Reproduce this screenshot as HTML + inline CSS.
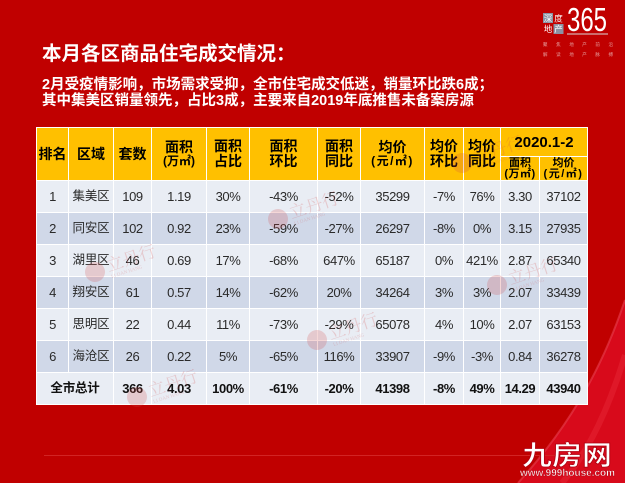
<!DOCTYPE html>
<html>
<head>
<meta charset="utf-8">
<style>
html,body{margin:0;padding:0;}
body{width:625px;height:483px;background:#c00000;position:relative;overflow:hidden;font-family:"Liberation Sans","Noto Sans CJK SC",sans-serif;}
.abs{position:absolute;}
.title{left:42px;top:43px;font-size:19.5px;line-height:22px;font-weight:bold;color:#fff;white-space:nowrap;font-family:"Liberation Sans","Noto Sans CJK SC",sans-serif;}
.sub{left:42px;top:77px;font-size:14.5px;line-height:16px;font-weight:bold;color:#fff;white-space:nowrap;font-family:"Liberation Sans","Noto Sans CJK SC",sans-serif;}
table{position:absolute;left:36px;top:127px;width:551px;border-collapse:collapse;table-layout:fixed;}
th,td{border:1px solid #fff;padding:0;text-align:center;vertical-align:middle;white-space:nowrap;overflow:hidden;}
th{background:#ffc000;color:#000;font-weight:bold;font-size:14px;line-height:15px;}
tr.h1{height:29px;}
tr.h2{height:24px;}
tr.r{height:32px;}
td{font-size:13px;line-height:15px;color:#2a2a2a;letter-spacing:-0.4px;}
tr.o td{background:#e9edf4;}
tr.e td{background:#d0d8e8;}
tr.t td{background:#e9edf4;font-weight:bold;color:#111;}
td.d{font-family:"Noto Sans CJK SC",sans-serif;font-size:12.5px;line-height:15px;letter-spacing:-0.2px;}
td.d span{display:inline-block;line-height:15px;vertical-align:middle;position:relative;top:-3px;}
.a{font-size:14px;line-height:15px;}
.b{font-size:12px;line-height:13px;}
.c{font-size:11px;line-height:10.5px;}
.yr{font-size:15px;}
</style>
</head>
<body>
<svg class="abs" style="left:0;top:0" width="625" height="483">
  <path d="M625,300 C605,360 575,420 518,483 L625,483 Z" fill="#d80a1b"/>
  <path d="M625,300 C605,360 575,420 518,483" fill="none" stroke="#e84050" stroke-width="2" opacity="0.6"/>
  <path d="M625,355 C610,405 590,450 562,483" fill="none" stroke="#f03a48" stroke-width="6" opacity="0.3"/>
  <line x1="44" y1="455.5" x2="555" y2="455.5" stroke="#d22424" stroke-width="1"/>
  <!-- top-right logo -->
  <rect x="543" y="13" width="10" height="10" fill="#8a93a4"/>
  <rect x="553.5" y="24" width="10" height="10" fill="#8a93a4"/>
  <text x="548" y="21.5" font-size="8.5" fill="#fff" text-anchor="middle" font-family="Noto Sans CJK SC,sans-serif">深</text>
  <text x="558.5" y="21.5" font-size="8.5" fill="#fff" text-anchor="middle" font-family="Noto Sans CJK SC,sans-serif">度</text>
  <text x="548" y="32" font-size="8.5" fill="#fff" text-anchor="middle" font-family="Noto Sans CJK SC,sans-serif">地</text>
  <text x="558.5" y="32" font-size="8.5" fill="#fff" text-anchor="middle" font-family="Noto Sans CJK SC,sans-serif">产</text>
  <text x="567" y="31" font-size="33" fill="#fff" font-family="Liberation Sans,sans-serif" textLength="40" lengthAdjust="spacingAndGlyphs">365</text>
  <line x1="567" y1="34" x2="608" y2="34" stroke="#d8d8d8" stroke-width="1"/>
  <text x="543" y="46" font-size="4.5" fill="#e6a0a0" font-family="Noto Sans CJK SC,sans-serif" textLength="70">聚 焦 地 产 前 沿</text>
  <text x="543" y="56" font-size="4.5" fill="#e6a0a0" font-family="Noto Sans CJK SC,sans-serif" textLength="70">解 读 地 产 脉 搏</text>
  <!-- bottom-right logo -->
  <text x="522" y="465" font-size="27" font-weight="bold" fill="#fff" stroke="#b00010" stroke-width="0.8" font-family="Noto Sans CJK SC,sans-serif" textLength="90" lengthAdjust="spacingAndGlyphs">九房网</text>
  <text x="520" y="476" font-size="10" font-weight="bold" fill="#fff" stroke="#b00010" stroke-width="0.4" font-family="Liberation Sans,sans-serif" textLength="95" lengthAdjust="spacingAndGlyphs">www.999house.com</text>
</svg>

<div class="abs title">本月各区商品住宅成交情况：</div>
<div class="abs sub">2月受疫情影响，市场需求受抑，全市住宅成交低迷，销量环比跌6成；<br>其中集美区销量领先，占比3成，主要来自2019年底推售未备案房源</div>

<table>
<colgroup>
<col style="width:32px"><col style="width:45px"><col style="width:38px"><col style="width:55px"><col style="width:43px"><col style="width:68px"><col style="width:43px"><col style="width:64px"><col style="width:39px"><col style="width:37px"><col style="width:39px"><col style="width:48px">
</colgroup>
<tr class="h1">
<th rowspan="2">排名</th>
<th rowspan="2">区域</th>
<th rowspan="2">套数</th>
<th rowspan="2"><div class="a">面积</div><div class="b">(万㎡)</div></th>
<th rowspan="2"><div class="a">面积</div><div class="a">占比</div></th>
<th rowspan="2"><div class="a">面积</div><div class="a">环比</div></th>
<th rowspan="2"><div class="a">面积</div><div class="a">同比</div></th>
<th rowspan="2"><div class="a">均价</div><div class="b" style="letter-spacing:1.5px">(元/㎡)</div></th>
<th rowspan="2"><div class="a">均价</div><div class="a">环比</div></th>
<th rowspan="2"><div class="a">均价</div><div class="a">同比</div></th>
<th colspan="2" class="yr">2020.1-2</th>
</tr>
<tr class="h2">
<th><div class="c">面积</div><div class="c" style="letter-spacing:0.5px">(万㎡)</div></th>
<th><div class="c">均价</div><div class="c" style="letter-spacing:1.5px">(元/㎡)</div></th>
</tr>
<tr class="r o"><td>1</td><td class="d"><span>集美区</span></td><td>109</td><td>1.19</td><td>30%</td><td>-43%</td><td>-52%</td><td>35299</td><td>-7%</td><td>76%</td><td>3.30</td><td>37102</td></tr>
<tr class="r e"><td>2</td><td class="d"><span>同安区</span></td><td>102</td><td>0.92</td><td>23%</td><td>-59%</td><td>-27%</td><td>26297</td><td>-8%</td><td>0%</td><td>3.15</td><td>27935</td></tr>
<tr class="r o"><td>3</td><td class="d"><span>湖里区</span></td><td>46</td><td>0.69</td><td>17%</td><td>-68%</td><td>647%</td><td>65187</td><td>0%</td><td>421%</td><td>2.87</td><td>65340</td></tr>
<tr class="r e"><td>4</td><td class="d"><span>翔安区</span></td><td>61</td><td>0.57</td><td>14%</td><td>-62%</td><td>20%</td><td>34264</td><td>3%</td><td>3%</td><td>2.07</td><td>33439</td></tr>
<tr class="r o"><td>5</td><td class="d"><span>思明区</span></td><td>22</td><td>0.44</td><td>11%</td><td>-73%</td><td>-29%</td><td>65078</td><td>4%</td><td>10%</td><td>2.07</td><td>63153</td></tr>
<tr class="r e"><td>6</td><td class="d"><span>海沧区</span></td><td>26</td><td>0.22</td><td>5%</td><td>-65%</td><td>116%</td><td>33907</td><td>-9%</td><td>-3%</td><td>0.84</td><td>36278</td></tr>
<tr class="r t"><td colspan="2" class="d" style="font-weight:bold"><span>全市总计</span></td><td>366</td><td>4.03</td><td>100%</td><td>-61%</td><td>-20%</td><td>41398</td><td>-8%</td><td>49%</td><td>14.29</td><td>43940</td></tr>
</table>

<!-- watermarks -->
<svg class="abs" style="left:0;top:0" width="625" height="483">
  <g fill="#d24a4a" opacity="0.22" font-family="Noto Serif CJK SC,serif">
    <g transform="translate(278,219) rotate(-18)">
      <circle cx="0" cy="0" r="10"/>
      <text x="13" y="4" font-size="17">立丹行</text>
      <text x="14" y="11" font-size="5" font-family="Liberation Serif,serif">LI DAN HANG</text>
    </g>
    <g transform="translate(95,272) rotate(-18)">
      <circle cx="0" cy="0" r="10"/>
      <text x="13" y="4" font-size="17">立丹行</text>
      <text x="14" y="11" font-size="5" font-family="Liberation Serif,serif">LI DAN HANG</text>
    </g>
    <g transform="translate(497,285) rotate(-18)">
      <circle cx="0" cy="0" r="10"/>
      <text x="13" y="4" font-size="17">立丹行</text>
      <text x="14" y="11" font-size="5" font-family="Liberation Serif,serif">LI DAN HANG</text>
    </g>
    <g transform="translate(137,397) rotate(-18)">
      <circle cx="0" cy="0" r="10"/>
      <text x="13" y="4" font-size="17">立丹行</text>
      <text x="14" y="11" font-size="5" font-family="Liberation Serif,serif">LI DAN HANG</text>
    </g>
    <g transform="translate(317,340) rotate(-18)">
      <circle cx="0" cy="0" r="10"/>
      <text x="13" y="4" font-size="17">立丹行</text>
      <text x="14" y="11" font-size="5" font-family="Liberation Serif,serif">LI DAN HANG</text>
    </g>
    <g transform="translate(462,163) rotate(-18)">
      <circle cx="0" cy="0" r="10"/>
      <text x="13" y="4" font-size="17">立丹行</text>
      <text x="14" y="11" font-size="5" font-family="Liberation Serif,serif">LI DAN HANG</text>
    </g>
  </g>
</svg>
</body>
</html>
